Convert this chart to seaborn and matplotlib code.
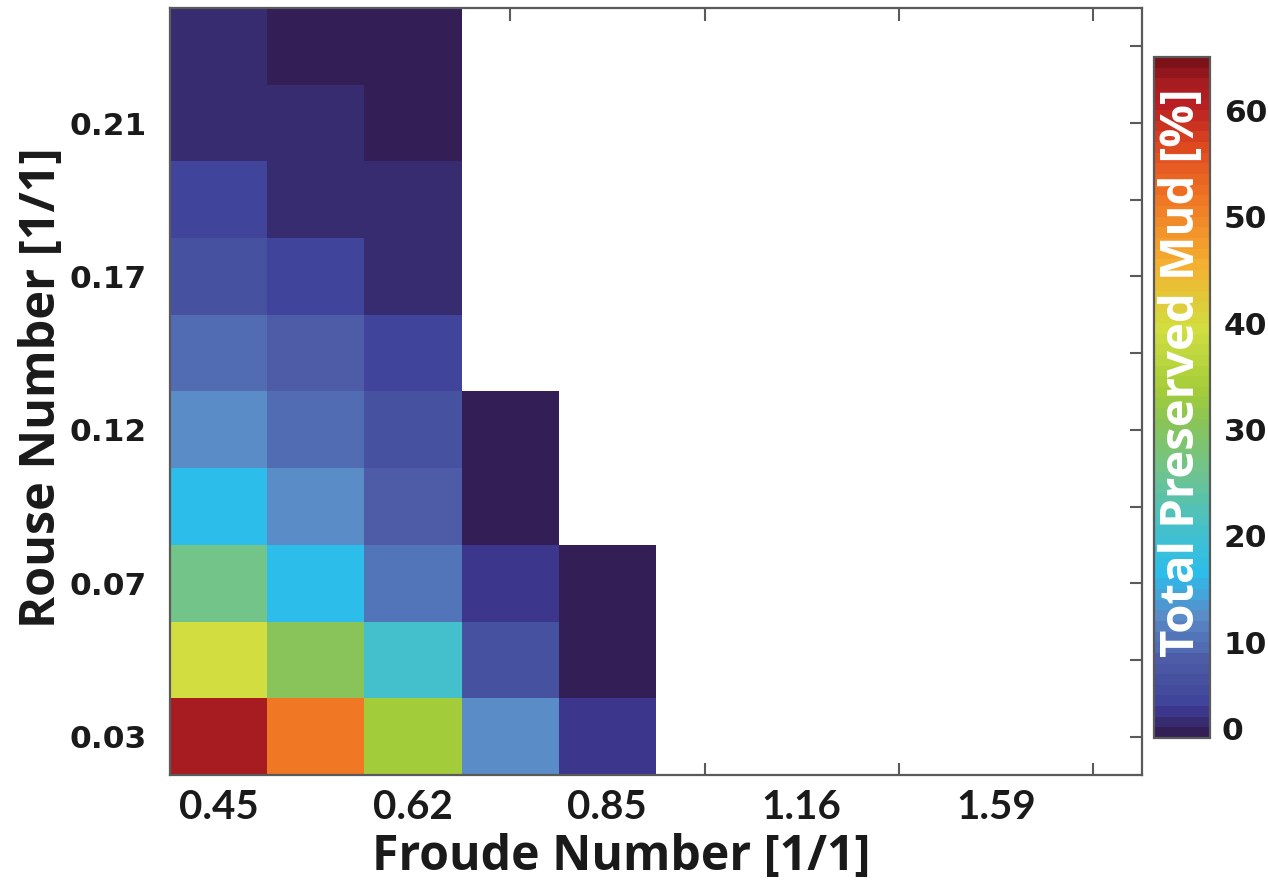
import numpy as np
import pandas as pd
import matplotlib
matplotlib.use("Agg")
import matplotlib.pyplot as plt
from matplotlib.colors import LinearSegmentedColormap, ListedColormap
import seaborn as sns

# Froude / Rouse labels shown on the axes (every other cell)
froude_labels = ["0.45", "0.62", "0.85", "1.16", "1.59"]
rouse_labels = ["0.03", "0.07", "0.12", "0.17", "0.21"]

# Total preserved mud [%]; rows go from lowest Rouse (bottom) to highest (top),
# columns from lowest Froude (left) to highest (right); NaN = no run
nan = np.nan
row_01 = [62.0, 51.0, 33.0, 12.5, 3.5, nan, nan, nan, nan, nan]
row_02 = [39.0, 30.0, 20.5, 6.0, 1.5, nan, nan, nan, nan, nan]
row_03 = [26.0, 16.5, 10.5, 3.5, 1.5, nan, nan, nan, nan, nan]
row_04 = [16.5, 12.5, 8.0, 1.5, nan, nan, nan, nan, nan, nan]
row_05 = [12.5, 9.5, 6.0, 1.5, nan, nan, nan, nan, nan, nan]
row_06 = [9.5, 8.0, 4.5, nan, nan, nan, nan, nan, nan, nan]
row_07 = [6.0, 4.5, 2.5, nan, nan, nan, nan, nan, nan, nan]
row_08 = [4.5, 2.5, 2.5, nan, nan, nan, nan, nan, nan, nan]
row_09 = [2.5, 2.5, 1.5, nan, nan, nan, nan, nan, nan, nan]
row_10 = [2.5, 1.5, 1.5, nan, nan, nan, nan, nan, nan, nan]

mud = pd.DataFrame([row_01, row_02, row_03, row_04, row_05,
                    row_06, row_07, row_08, row_09, row_10])

# colour scale: 64 one-percent bands from 1 to 65 (anchors at band centres)
vmin, vmax, nbands = 1.0, 65.0, 64
anchors = [
    (1.0, "#2e1a4c"), (1.5, "#331e56"), (2.5, "#382c70"), (3.5, "#3c368c"),
    (4.5, "#40449a"), (6.5, "#4652a0"), (8.5, "#4e5ca8"), (9.5, "#526cb4"),
    (10.5, "#5274b8"), (12.5, "#5a8cc8"), (16.5, "#2cbdea"), (20.5, "#44c0cc"),
    (26.5, "#72c488"), (30.5, "#88c45a"), (33.5, "#a2cc3a"), (39.5, "#d2de40"),
    (45.5, "#f4b030"), (51.5, "#f07824"), (56.5, "#e04a20"), (60.5, "#b81e22"),
    (62.5, "#a81c20"), (64.5, "#7c1218"), (65.0, "#781018"),
]
smooth = LinearSegmentedColormap.from_list(
    "mud_smooth", [((v - vmin) / (vmax - vmin), c) for v, c in anchors], N=1024)
centers = (np.arange(nbands) + 0.5) / nbands
cmap = ListedColormap(smooth(centers), name="mud")

sns.set_style("white")
label_font = "Open Sans"
xnum_font = "Lato"
num_font = "DejaVu Sans"
edge = "#5a5a5a"
ink = "#1a1a1a"

fig = plt.figure(figsize=(12.68, 8.85), dpi=100)
ax = fig.add_axes([0.134, 0.1243, 0.7666, 0.8667])
cax = fig.add_axes([0.910, 0.1661, 0.0442, 0.7695])

sns.heatmap(mud, ax=ax, cmap=cmap, vmin=vmin, vmax=vmax, cbar_ax=cax,
            xticklabels=False, yticklabels=False)
ax.invert_yaxis()
ax.set_xlim(0, 10)
ax.set_ylim(0, 10)

for s in ax.spines.values():
    s.set_visible(True)
    s.set_color(edge)
    s.set_linewidth(1.6)

# x: labels on odd cells, tick marks on even cells
ax.set_xticks(np.arange(0, 10, 2) + 0.5)
ax.set_xticklabels(froude_labels, fontfamily=xnum_font, fontweight="bold",
                   fontsize=29, color=ink)
ax.set_xticks(np.arange(1, 10, 2) + 0.5, minor=True)
ax.tick_params(axis="x", which="major", length=0, pad=10, bottom=True, top=False)
ax.tick_params(axis="x", which="minor", length=9, width=1.5, color=edge,
               direction="in", bottom=True, top=True)

# y: tick marks on every row, labels on every other row
ax.set_yticks(np.arange(10) + 0.5)
ylab = []
for i in range(10):
    ylab.append(rouse_labels[i // 2] if i % 2 == 0 else "")
ax.set_yticklabels(ylab, fontfamily=num_font, fontweight="bold", fontsize=22.5,
                   color=ink, rotation=0)
ax.tick_params(axis="y", which="major", length=9, width=1.5, color=edge,
               direction="in", left=True, right=True, pad=17)

ax.set_xlabel("Froude Number [1/1]", fontfamily=label_font, fontweight="bold",
              fontsize=34.7, color=ink)
ax.set_ylabel("Rouse Number [1/1]", fontfamily=label_font, fontweight="bold",
              fontsize=35, color=ink)
ax.xaxis.set_label_coords(0.464, -0.108)
ax.xaxis.label.set_va("center")
ax.yaxis.set_label_coords(-0.131, 0.505)
ax.yaxis.label.set_va("center")

# colorbar
cbar = ax.collections[0].colorbar
cbar.outline.set_edgecolor(edge)
cbar.outline.set_linewidth(1.6)
cbar.set_ticks([10, 20, 30, 40, 50, 60])
cax.tick_params(length=7, width=1.5, color=edge, direction="in", pad=10)
for t in cax.get_yticklabels():
    t.set_fontfamily(num_font)
    t.set_fontweight("bold")
    t.set_fontsize(22.5)
    t.set_color(ink)
cax.text(1.214, 0.010, "0", transform=cax.transAxes, ha="left", va="center",
         fontfamily=num_font, fontweight="bold", fontsize=22.5, color=ink)
cax.text(0.5, 0.537, "Total Preserved Mud [%]", transform=cax.transAxes,
         rotation=90, ha="center", va="center", color="white",
         fontfamily=label_font, fontweight="bold", fontsize=34)

fig.savefig("out.png", dpi=100)
